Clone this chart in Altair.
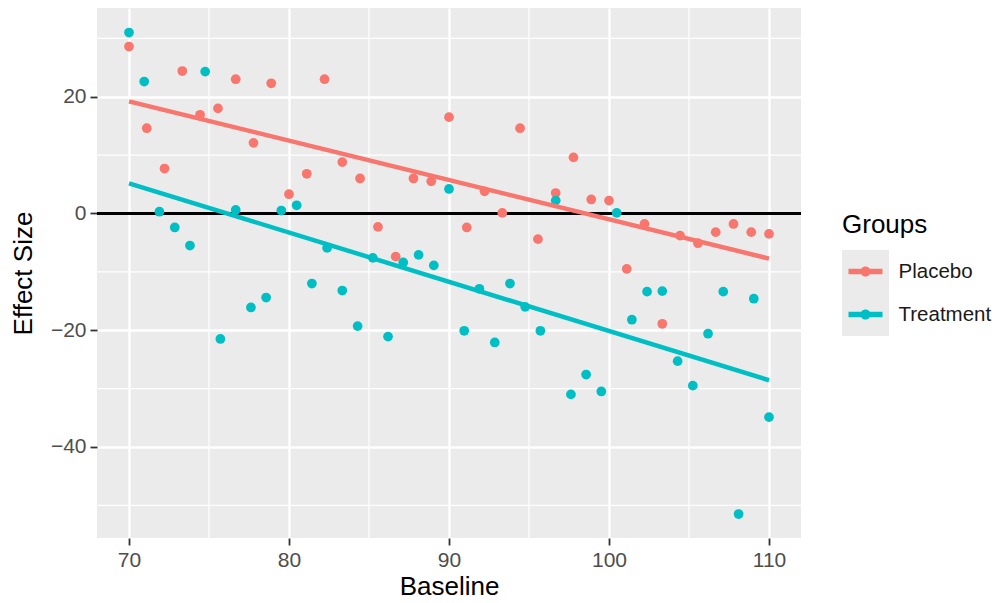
import altair as alt
import pandas as pd

FONT = "Liberation Sans"

groups = ["Placebo", "Treatment"]
group_colors = ["#F8766D", "#00BFC4"]
key_bg_domain = ["Placebo ", "Treatment "]
key_bg_colors = ["#EBEBEB", "#EBEBEB"]

placebo_x = [70.00, 71.11, 72.22, 73.33, 74.44, 75.56, 76.67, 77.78, 78.89, 80.00,
             81.11, 82.22, 83.33, 84.44, 85.56, 86.67, 87.78, 88.89, 90.00, 91.11,
             92.22, 93.33, 94.44, 95.56, 96.67, 97.78, 98.89, 100.00, 101.11, 102.22,
             103.33, 104.44, 105.56, 106.67, 107.78, 108.89, 110.00]
placebo_y = [28.6, 14.6, 7.7, 24.4, 16.9, 18.0, 23.0, 12.1, 22.3, 3.3,
             6.8, 23.0, 8.8, 6.0, -2.3, -7.4, 6.0, 5.5, 16.5, -2.4,
             3.8, 0.1, 14.6, -4.4, 3.5, 9.6, 2.4, 2.2, -9.5, -1.8,
             -18.9, -3.8, -5.1, -3.2, -1.8, -3.2, -3.5]

treatment_x = [70.00, 70.95, 71.90, 72.86, 73.81, 74.76, 75.71, 76.67, 77.62, 78.57,
               79.52, 80.48, 81.43, 82.38, 83.33, 84.29, 85.24, 86.19, 87.14, 88.10,
               89.05, 90.00, 90.95, 91.90, 92.86, 93.81, 94.76, 95.71, 96.67, 97.62,
               98.57, 99.52, 100.48, 101.43, 102.38, 103.33, 104.29, 105.24, 106.19, 107.14,
               108.10, 109.05, 110.00]
treatment_y = [31.0, 22.6, 0.3, -2.4, -5.5, 24.3, -21.5, 0.6, -16.1, -14.4,
               0.5, 1.4, -12.0, -5.9, -13.2, -19.3, -7.6, -21.1, -8.4, -7.1,
               -8.9, 4.2, -20.1, -12.9, -22.1, -12.0, -16.0, -20.1, 2.2, -31.0,
               -27.6, -30.5, 0.1, -18.2, -13.4, -13.3, -25.3, -29.5, -20.6, -13.4,
               -51.5, -14.6, -34.9]

x_major = [70, 80, 90, 100, 110]
x_minor = [75, 85, 95, 105]
y_major = [-40, -20, 0, 20]
y_minor = [-50, -30, -10, 10, 30]
ref_y = [0]

df = pd.DataFrame({
    "Baseline": placebo_x + treatment_x,
    "Effect": placebo_y + treatment_y,
    "Groups": [groups[0]] * len(placebo_x) + [groups[1]] * len(treatment_x),
})

xscale = alt.Scale(domain=[68, 112], nice=False, zero=False)
yscale = alt.Scale(domain=[-55.6, 35.2], nice=False, zero=False)
cscale = alt.Scale(domain=groups, range=group_colors)

KEY_PATH = ("M-1,-0.16L1,-0.16L1,0.16L-1,0.16Z "
            "M-0.3,0A0.3,0.3 0 1,1 0.3,0A0.3,0.3 0 1,1 -0.3,0Z")
BG_PATH = "M-1,-0.915L1,-0.915L1,0.915L-1,0.915Z"

LEG_X, LEG_Y = 745, 204
common = dict(
    title="Groups", orient="none", legendX=LEG_X, legendY=LEG_Y, padding=0,
    titleFont=FONT, titleFontSize=26, titleFontWeight="normal",
    titlePadding=12,
    labelFont=FONT, labelFontSize=20.5,
    symbolStrokeWidth=0, symbolOpacity=1,
    clipHeight=43, rowPadding=0,
)

legend = alt.Legend(
    titleColor="black", labelColor="#1A1A1A", labelOffset=16, labelLimit=200,
    symbolType=KEY_PATH, symbolSize=1156, symbolOffset=6.5, zindex=2,
    **common,
)
bg_legend = alt.Legend(
    titleColor="black", titleOpacity=0, labelExpr="''", labelOffset=0,
    symbolType=BG_PATH, symbolSize=2209, symbolOffset=0, zindex=1,
    **common,
)

base = alt.Chart(df)

minor_x = alt.Chart(pd.DataFrame({"v": x_minor})).mark_rule(
    color="white", strokeWidth=1.2).encode(x=alt.X("v:Q", scale=xscale))
minor_y = alt.Chart(pd.DataFrame({"v": y_minor})).mark_rule(
    color="white", strokeWidth=1.2).encode(y=alt.Y("v:Q", scale=yscale))
zero_line = alt.Chart(pd.DataFrame({"v": ref_y})).mark_rule(
    color="black", strokeWidth=3).encode(y=alt.Y("v:Q", scale=yscale))

key_bg = base.transform_filter("false").mark_square(opacity=1).encode(
    x=alt.X("Baseline:Q", scale=xscale),
    y=alt.Y("Effect:Q", scale=yscale),
    fill=alt.Fill("Groups:N", scale=alt.Scale(domain=key_bg_domain, range=key_bg_colors),
                  legend=bg_legend),
)

points = base.mark_circle(size=95, opacity=1).encode(
    x=alt.X("Baseline:Q", scale=xscale, title="Baseline",
            axis=alt.Axis(values=x_major)),
    y=alt.Y("Effect:Q", scale=yscale, title="Effect Size",
            axis=alt.Axis(values=y_major)),
    color=alt.Color("Groups:N", scale=cscale, legend=legend),
)

lines = base.transform_regression(
    "Baseline", "Effect", groupby=["Groups"]
).mark_line(strokeWidth=4.5).encode(
    x=alt.X("Baseline:Q", scale=xscale),
    y=alt.Y("Effect:Q", scale=yscale),
    color=alt.Color("Groups:N", scale=cscale),
)

chart = alt.layer(minor_x, minor_y, zero_line, key_bg, points, lines).properties(
    width=704, height=530,
    autosize=alt.AutoSizeParams(type="none"),
    padding={"left": 89, "top": 0, "right": 194, "bottom": 62},
).configure_view(
    fill="#EBEBEB", stroke=None
).configure_axis(
    domain=False,
    grid=True, gridColor="white", gridWidth=2.4,
    tickColor="#333333", tickSize=7, tickWidth=1.8,
    labelFont=FONT, labelFontSize=21, labelColor="#4D4D4D", labelPadding=4,
    titleFont=FONT, titleFontSize=26, titleFontWeight="normal", titleColor="black",
).configure_axisX(
    titlePadding=3,
).configure_axisY(
    titlePadding=14,
)

chart.save("out.html", embed_options={"renderer": "svg", "actions": False})
